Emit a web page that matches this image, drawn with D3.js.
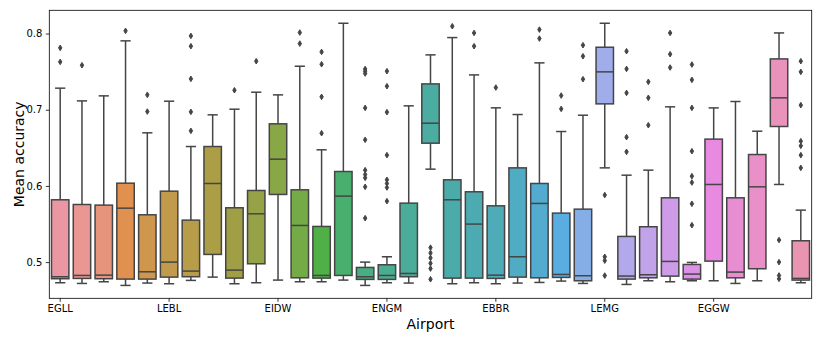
<!DOCTYPE html>
<html>
<head>
<meta charset="utf-8">
<script src="https://cdn.jsdelivr.net/npm/d3@7"></script>
<style>
  body { margin: 0; background: #fff; }
  svg { font-family: "DejaVu Sans", sans-serif; }
</style>
</head>
<body>
<svg width="822" height="343"></svg>
<script>
// tick labels shown every 5th box (35 boxes in total)
const tickIdx = [0, 5, 10, 15, 20, 25, 30];
const tickLabels = ["EGLL", "LEBL", "EIDW", "ENGM", "EBBR", "LEMG", "EGGW"];

// box statistics, one entry per box
const whiskLo = [0.4729, 0.4720, 0.4742, 0.4694, 0.4725, 0.4716, 0.4760, 0.4803, 0.4716, 0.4729,
                 0.4764, 0.4742, 0.4742, 0.4764, 0.4694, 0.4729, 0.4725, 0.6220, 0.4716, 0.4729,
                 0.4716, 0.4725, 0.4733, 0.4751, 0.4720, 0.6237, 0.4707, 0.4755, 0.4742, 0.4755,
                 0.4755, 0.4720, 0.4755, 0.6019, 0.4729];
const q1 = [0.4782, 0.4786, 0.4782, 0.4777, 0.4777, 0.4803, 0.4808, 0.5101, 0.4790, 0.4978,
            0.5888, 0.4794, 0.4790, 0.4825, 0.4773, 0.4773, 0.4808, 0.6561, 0.4790, 0.4790,
            0.4786, 0.4803, 0.4794, 0.4799, 0.4755, 0.7077, 0.4777, 0.4794, 0.4816, 0.4777,
            0.5013, 0.4794, 0.4913, 0.6780, 0.4764];
const median = [0.4808, 0.4825, 0.4829, 0.5708, 0.4873, 0.5000, 0.4882, 0.6032, 0.4895, 0.5634,
                0.6351, 0.5481, 0.4825, 0.5866, 0.4808, 0.4825, 0.4851, 0.6823, 0.5818, 0.5499,
                0.4829, 0.5070, 0.5770, 0.4838, 0.4821, 0.7497, 0.4817, 0.4834, 0.5009, 0.4843,
                0.6019, 0.4869, 0.5988, 0.7156, 0.4786];
const q3 = [0.5818, 0.5756, 0.5748, 0.6036, 0.5621, 0.5931, 0.5551, 0.6517, 0.5713, 0.5940,
            0.6815, 0.5949, 0.5468, 0.6189, 0.4930, 0.4965, 0.5774, 0.7339, 0.6080, 0.5923,
            0.5739, 0.6237, 0.6032, 0.5643, 0.5695, 0.7820, 0.5337, 0.5464, 0.5844, 0.4969,
            0.6614, 0.5844, 0.6412, 0.7667, 0.5280];
const whiskHi = [0.7283, 0.7116, 0.7182, 0.7904, 0.6697, 0.7112, 0.6517, 0.6933, 0.7007, 0.7230,
                 0.7195, 0.7571, 0.6474, 0.8135, 0.5000, 0.5070, 0.7051, 0.7720, 0.7947, 0.7457,
                 0.7025, 0.6937, 0.7615, 0.6714, 0.6928, 0.8135, 0.6141, 0.6207, 0.7038, 0.4996,
                 0.7024, 0.7108, 0.6718, 0.8008, 0.5682];
const outliers = [
  [0.7812, 0.7628], [0.7584], [], [0.8035], [0.7195, 0.6976], [],
  [0.7969, 0.7834, 0.7405, 0.6972, 0.6723], [], [0.7256], [0.7637], [], [0.8013, 0.7868],
  [0.7759, 0.7597, 0.7169, 0.6692], [],
  [0.7535, 0.7505, 0.7475, 0.7024, 0.6605, 0.6207, 0.6150, 0.6106, 0.5988, 0.5577],
  [0.7506, 0.7309, 0.6968, 0.6404, 0.6080, 0.6032, 0.5979, 0.5800], [],
  [0.5190, 0.5120, 0.5055, 0.4985, 0.4915, 0.4775],
  [0.8096], [0.8008, 0.7834], [0.7291], [], [0.8052, 0.7934], [0.7186, 0.7011],
  [0.7847, 0.7702, 0.7401], [0.5880, 0.5070, 0.5020, 0.4823],
  [0.7768, 0.7536, 0.7221, 0.6640, 0.6447], [0.7366, 0.7156, 0.6797], [0.8008, 0.7729, 0.7554],
  [0.7593, 0.7392, 0.7024, 0.6456, 0.6128, 0.6045, 0.5765, 0.5485],
  [], [], [], [0.5290, 0.5000, 0.4825, 0.4780],
  [0.7637, 0.7497, 0.7060, 0.6587, 0.6526, 0.6404, 0.6237]
];

const n = median.length;

// seaborn-like husl palette (l=.7), desaturated to 0.75
const M = [[3.2406, -1.5372, -0.4986], [-0.9689, 1.8758, 0.0415], [0.0557, -0.2040, 1.0570]];
function maxChroma(L, H) {
  const hr = H * Math.PI / 180, sinH = Math.sin(hr), cosH = Math.cos(hr);
  const sub1 = Math.pow(L + 16, 3) / 1560896, sub2 = sub1 > 0.008856 ? sub1 : L / 903.3;
  let res = Infinity;
  for (const [m1, m2, m3] of M) {
    const top = (0.99915 * m1 + 1.05122 * m2 + 1.14460 * m3) * sub2;
    const rb = 0.86330 * m3 - 0.17266 * m2, lb = 0.12949 * m3 - 0.38848 * m1;
    const bottom = (rb * sinH + lb * cosH) * sub2;
    for (const t of [0, 1]) {
      const C = L * (top - 1.05122 * t) / (bottom + 0.17266 * sinH * t);
      if (C > 0 && C < res) res = C;
    }
  }
  return res;
}
function husl(h, s, l) {
  const C = maxChroma(l, h) / 100 * s;
  const hr = h * Math.PI / 180, U = C * Math.cos(hr), V = C * Math.sin(hr);
  const fInv = t => t ** 3 > 0.008856 ? t ** 3 : (116 * t - 16) / 903.3;
  const Y = fInv((l + 16) / 116);
  const vu = U / (13 * l) + 0.19784, vv = V / (13 * l) + 0.46834;
  const X = -(9 * Y * vu) / ((vu - 4) * vv - vu * vv);
  const Z = (9 * Y - 15 * vv * Y - vv * X) / (3 * vv);
  const lin = c => c <= 0.0031308 ? 12.92 * c : 1.055 * Math.pow(c, 1 / 2.4) - 0.055;
  return M.map(r => Math.min(1, Math.max(0, lin(r[0] * X + r[1] * Y + r[2] * Z))));
}
const colors = d3.range(n).map(i => {
  const h = ((i / n + 0.01) % 1) * 359;
  const [r, g, b] = husl(h, 0.9 * 99, 0.7 * 99);
  const c = d3.hsl(d3.rgb(r * 255, g * 255, b * 255));
  c.s *= 0.75;
  return c.formatHex();
});
const lum = d3.min(colors, c => {
  const r = d3.rgb(c);
  return (Math.max(r.r, r.g, r.b) + Math.min(r.r, r.g, r.b)) / 2 / 255;
}) * 0.6;
const gray = d3.rgb(lum * 255, lum * 255, lum * 255).formatHex();

const svg = d3.select("svg"),
      margin = {top: 10.3, right: 10.3, bottom: 44.7, left: 49.3},
      width = +svg.attr("width") - margin.left - margin.right,
      height = +svg.attr("height") - margin.top - margin.bottom;

const g = svg.append("g").attr("transform", `translate(${margin.left},${margin.top})`);

const x = d3.scaleBand()
  .domain(d3.range(n))
  .range([0, width])
  .paddingInner(0.2)
  .paddingOuter(0.1);

const y = d3.scaleLinear()
  .domain([0.4525, 0.8305])
  .range([height, 0]);

const bw = x.bandwidth();
const cx = i => x(i) + bw / 2;

// whiskers
const boxes = g.append("g").selectAll("g")
  .data(d3.range(n))
  .join("g");

boxes.append("line")
  .attr("x1", cx).attr("x2", cx)
  .attr("y1", i => y(whiskLo[i])).attr("y2", i => y(q1[i]))
  .attr("stroke", gray).attr("stroke-width", 1.5);
boxes.append("line")
  .attr("x1", cx).attr("x2", cx)
  .attr("y1", i => y(q3[i])).attr("y2", i => y(whiskHi[i]))
  .attr("stroke", gray).attr("stroke-width", 1.5);

// caps
[whiskLo, whiskHi].forEach(arr => {
  boxes.append("line")
    .attr("x1", i => cx(i) - bw / 4 - 0.75).attr("x2", i => cx(i) + bw / 4 + 0.75)
    .attr("y1", i => y(arr[i])).attr("y2", i => y(arr[i]))
    .attr("stroke", gray).attr("stroke-width", 1.5);
});

// boxes
boxes.append("rect")
  .attr("x", i => x(i))
  .attr("width", bw)
  .attr("y", i => y(q3[i]))
  .attr("height", i => y(q1[i]) - y(q3[i]))
  .attr("fill", i => colors[i])
  .attr("stroke", gray)
  .attr("stroke-width", 1.5);

// medians
boxes.append("line")
  .attr("x1", i => x(i)).attr("x2", i => x(i) + bw)
  .attr("y1", i => y(median[i])).attr("y2", i => y(median[i]))
  .attr("stroke", gray).attr("stroke-width", 1.5);

// fliers (thin diamonds)
boxes.selectAll("path")
  .data(i => outliers[i].map(v => ({i, v})))
  .join("path")
  .attr("d", d => {
    const px = cx(d.i), py = y(d.v);
    return `M${px},${py - 2.8}L${px + 1.7},${py}L${px},${py + 2.8}L${px - 1.7},${py}Z`;
  })
  .attr("fill", gray)
  .attr("stroke", gray)
  .attr("stroke-width", 1);

// axes
const xAxis = g.append("g")
  .attr("transform", `translate(0,${height})`)
  .call(d3.axisBottom(x)
    .tickValues(tickIdx)
    .tickFormat((d, k) => tickLabels[k])
    .tickSize(3.5)
    .tickPadding(3.5));

const yAxis = g.append("g")
  .call(d3.axisLeft(y)
    .tickValues([0.5, 0.6, 0.7, 0.8])
    .tickFormat(d3.format(".1f"))
    .tickSize(3.5)
    .tickPadding(3.5));

[xAxis, yAxis].forEach(a => {
  a.select(".domain").remove();
  a.selectAll(".tick line").attr("stroke", "#000").attr("stroke-width", 0.8);
  a.selectAll(".tick text").attr("fill", "#000").style("font-size", "10px")
    .style("font-family", "DejaVu Sans");
});

// frame
g.append("rect")
  .attr("width", width).attr("height", height)
  .attr("fill", "none").attr("stroke", "#000").attr("stroke-width", 0.8);

svg.append("text")
  .attr("x", margin.left + width / 2)
  .attr("y", 329)
  .attr("text-anchor", "middle")
  .style("font-size", "14px")
  .text("Airport");

svg.append("text")
  .attr("transform", `translate(23.5,${margin.top + height / 2}) rotate(-90)`)
  .attr("text-anchor", "middle")
  .style("font-size", "14px")
  .text("Mean accuracy");
</script>
</body>
</html>
